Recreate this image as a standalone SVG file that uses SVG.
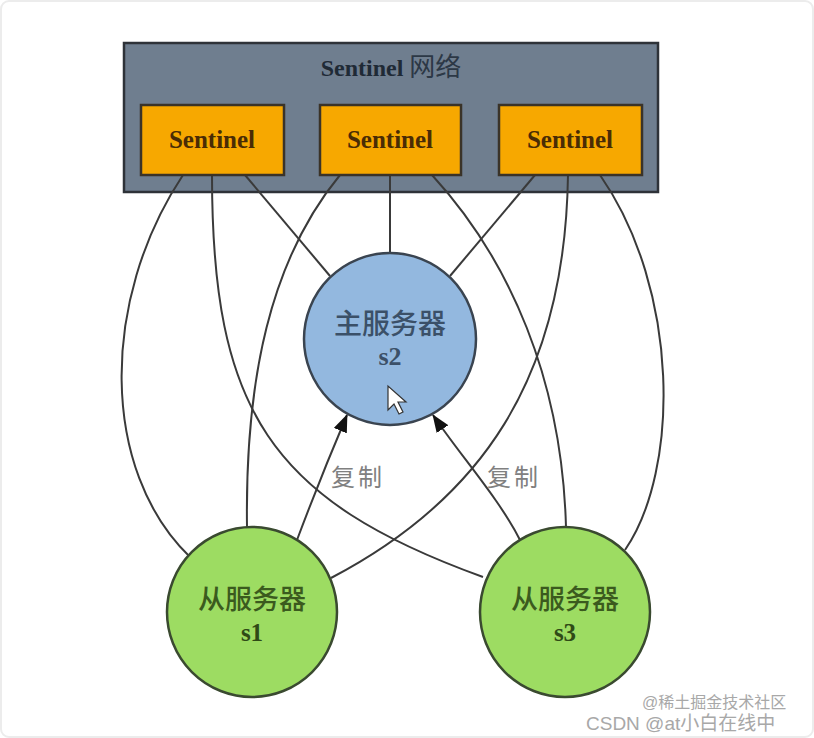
<svg xmlns="http://www.w3.org/2000/svg" width="814" height="738" viewBox="0 0 814 738">
<defs>
<style>
.edge{fill:none;stroke:#3a3a3a;stroke-width:2}
.sbox{fill:#f7a800;stroke:#3a3328;stroke-width:2.5}
.stxt{font-family:"Liberation Serif","Noto Sans CJK SC",serif;font-weight:bold;font-size:25px;fill:#4a2c05;text-anchor:middle}
.cjk{font-family:"Noto Sans CJK SC","Liberation Sans",sans-serif;text-anchor:middle}
.ser{font-family:"Liberation Serif",serif;font-weight:bold;text-anchor:middle}
.wm{font-family:"Liberation Sans","Noto Sans CJK SC",sans-serif;fill:#a8a8a8;text-anchor:start}
</style>
<marker id="ah" markerWidth="18" markerHeight="14" refX="17" refY="7" orient="auto" markerUnits="userSpaceOnUse">
<path d="M0,0 L18,7 L0,14 Z" fill="#111"/>
</marker>
</defs>
<rect x="0" y="0" width="814" height="738" fill="#ffffff"/>
<rect x="1" y="1" width="812" height="736" rx="8" fill="none" stroke="#ececec" stroke-width="2"/>

<g id="sentinel-network">
<rect x="124" y="43" width="534" height="149" fill="#6f7e8f" stroke="#2e3238" stroke-width="2.5"/>
<text x="391" y="76" font-size="24" fill="#1f2a36" text-anchor="middle"><tspan font-family="Liberation Serif, serif" font-weight="bold">Sentinel </tspan><tspan font-family="Noto Sans CJK SC, sans-serif" font-size="26" fill="#2c3846">网络</tspan></text>
</g>

<g id="connectors">
<path class="edge" d="M183,175 C100,300 100,470 190,557"/>
<path class="edge" d="M212,175 C212,410 270,500 483,577"/>
<path class="edge" d="M245,175 L330,276"/>
<path class="edge" d="M340,175 C270,260 245,380 247,527"/>
<path class="edge" d="M390,175 L390,253"/>
<path class="edge" d="M432,175 C510,260 562,380 566,527"/>
<path class="edge" d="M535,175 L450,276"/>
<path class="edge" d="M568,175 C565,380 480,500 331,578"/>
<path class="edge" d="M600,175 C680,290 680,470 625,550"/>
<path class="edge" d="M297,540 C312,500 330,455 347,415" marker-end="url(#ah)"/>
<path class="edge" d="M520,540 C500,500 460,455 433,415" marker-end="url(#ah)"/>
</g>

<g id="sentinel-1">
<rect class="sbox" x="141" y="105" width="143" height="70"/>
<text class="stxt" x="212" y="148">Sentinel</text>
</g>
<g id="sentinel-2">
<rect class="sbox" x="320" y="105" width="141" height="70"/>
<text class="stxt" x="390" y="148">Sentinel</text>
</g>
<g id="sentinel-3">
<rect class="sbox" x="499" y="105" width="143" height="70"/>
<text class="stxt" x="570" y="148">Sentinel</text>
</g>

<g id="master-s2">
<circle cx="390" cy="339" r="86" fill="#93b8df" stroke="#3a4450" stroke-width="2.5"/>
<text class="cjk" x="390" y="334" font-size="28" font-weight="500" fill="#3b5068">主服务器</text>
<text class="ser" x="390" y="365" font-size="26" fill="#3b5068">s2</text>
<path d="M388,386 L388,410 L394,404 L399,414 L403,412 L398,402 L406,402 Z" fill="#ffffff" stroke="#333" stroke-width="1.2"/>
</g>

<g id="slave-s1">
<circle cx="252" cy="612" r="85" fill="#9ddc62" stroke="#3a4a30" stroke-width="2.5"/>
<text class="cjk" x="252" y="609" font-size="27" font-weight="500" fill="#3b5a1e">从服务器</text>
<text class="ser" x="252" y="641" font-size="25" fill="#2f4a16">s1</text>
</g>

<g id="slave-s3">
<circle cx="565" cy="612" r="85" fill="#9ddc62" stroke="#3a4a30" stroke-width="2.5"/>
<text class="cjk" x="565" y="609" font-size="27" font-weight="500" fill="#3b5a1e">从服务器</text>
<text class="ser" x="565" y="641" font-size="25" fill="#2f4a16">s3</text>
</g>

<g id="labels">
<text class="cjk" x="358" y="486" font-size="24" fill="#808080" letter-spacing="3">复制</text>
<text class="cjk" x="514" y="486" font-size="24" fill="#808080" letter-spacing="3">复制</text>
</g>

<g id="watermark">
<text class="wm" x="642" y="708" font-size="16">@稀土掘金技术社区</text>
<text class="wm" x="586" y="730" font-size="19" fill="#999">CSDN @at小白在线中</text>
</g>
</svg>
